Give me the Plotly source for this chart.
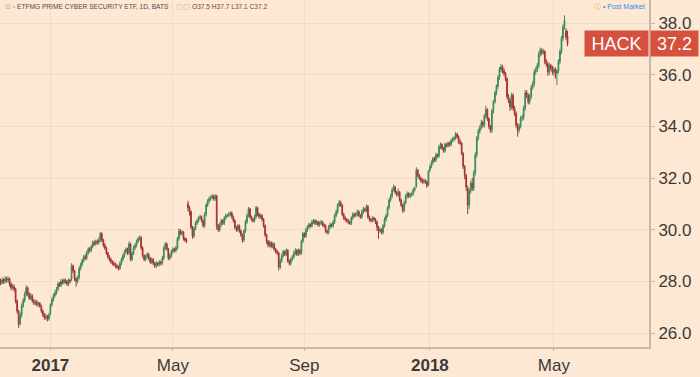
import pandas as pd
import plotly.graph_objects as go

# ---------------- data ----------------
opens = [
    28.0, 27.95, 28.05, 28.0, 28.1, 28.05, 28.1, 27.9, 27.75, 27.8,
    27.7, 27.25, 26.85, 26.35, 26.7, 27.05, 27.25, 27.5, 27.75, 27.5,
    27.35, 27.45, 27.25, 27.15, 27.2, 27.1, 27.15, 27.05, 26.85, 26.7,
    26.6, 26.65, 26.55, 26.75, 27.1, 27.3, 27.45, 27.55, 27.7, 27.9,
    27.85, 28.0, 27.95, 28.05, 28.0, 27.9, 28.05, 28.1, 28.6, 28.4,
    28.1, 28.0, 28.15, 28.5, 28.65, 28.8, 28.95, 28.9, 29.1, 29.25,
    29.2, 29.35, 29.5, 29.45, 29.55, 29.5, 29.6, 29.85, 29.6, 29.4,
    29.3, 29.1, 28.95, 28.85, 28.75, 28.7, 28.65, 28.6, 28.55, 28.5,
    28.7, 28.85, 29.0, 29.15, 29.25, 29.1, 29.45, 28.85, 29.1, 29.3,
    29.4, 29.55, 29.65, 29.7, 29.3, 29.0, 28.85, 28.95, 29.05, 28.9,
    28.75, 28.85, 28.7, 28.6, 28.7, 28.65, 28.75, 28.7, 28.9, 29.3,
    29.45, 29.25, 28.9, 29.0, 29.15, 29.25, 29.2, 29.3, 29.65, 29.95,
    29.85, 29.9, 29.65, 29.6, 31.0, 30.85, 30.7, 30.1, 29.75, 30.05,
    30.25, 30.35, 30.45, 30.5, 30.35, 30.15, 30.6, 30.95, 31.1, 31.2,
    31.25, 31.3, 31.2, 31.3, 30.15, 30.0, 30.2, 30.35, 30.25, 30.45,
    30.55, 30.55, 30.6, 30.65, 30.5, 30.35, 30.1, 30.0, 30.15, 29.95,
    29.8, 29.6, 29.95, 30.3, 30.55, 30.8, 30.5, 30.4, 30.35, 30.5,
    30.85, 30.6, 30.5, 30.55, 30.4, 30.15, 29.8, 29.55, 29.4, 29.5,
    29.35, 29.45, 29.25, 29.15, 29.1, 28.55, 28.8, 29.0, 29.15, 29.05,
    29.2, 28.8, 28.7, 28.85, 28.95, 29.1, 29.2, 29.05, 29.2, 29.1,
    29.55, 29.85, 29.75, 30.0, 30.1, 30.2, 30.15, 30.3, 30.35, 30.25,
    30.3, 30.2, 30.25, 30.3, 30.2, 30.15, 29.95, 29.9, 30.1, 30.2,
    30.15, 30.3, 30.55, 30.7, 30.95, 31.05, 30.95, 30.6, 30.45, 30.4,
    30.35, 30.3, 30.25, 30.45, 30.6, 30.55, 30.6, 30.7, 30.55, 30.5,
    30.7, 30.8, 30.75, 30.9, 30.5, 30.4, 30.35, 30.45, 30.4, 30.3,
    30.1, 29.95, 30.0, 29.9, 30.15, 30.4, 30.55, 30.85, 31.15, 31.3,
    31.55, 31.65, 31.45, 31.35, 31.45, 31.15, 30.95, 30.75, 31.05, 31.3,
    31.4, 31.3, 31.35, 31.4, 31.55, 31.7, 32.3, 32.1, 32.0, 31.9,
    31.85, 31.9, 31.85, 31.75, 32.3, 32.45, 32.6, 32.75, 32.7, 32.9,
    32.85, 33.2, 33.3, 33.15, 33.05, 33.3, 33.25, 33.35, 33.3, 33.45,
    33.5, 33.55, 33.7, 33.6, 33.4, 33.35, 32.95, 32.45, 32.1, 31.6,
    30.95, 31.5, 31.8, 31.6, 32.2, 32.9, 33.55, 33.8, 33.95, 34.15,
    34.05, 34.4, 34.65, 34.3, 34.0, 33.85, 34.6, 34.95, 35.3, 35.55,
    35.9, 36.2, 36.3, 36.15, 36.05, 35.85, 35.15, 35.0, 34.75, 35.2,
    34.7, 34.5, 34.05, 33.85, 34.0, 34.3, 34.35, 34.7, 35.3, 35.2,
    34.95, 35.15, 35.5, 35.65, 36.1, 36.2, 36.35, 36.8, 36.95, 36.85,
    36.9, 36.5, 36.4, 36.1, 36.35, 36.25, 36.1, 36.2, 36.05, 36.15,
    36.5, 36.9, 37.4, 37.85, 37.7, 37.5,
]

highs = [
    28.1, 28.15, 28.12, 28.2, 28.18, 28.2, 28.15, 27.98, 27.9, 27.88,
    27.75, 27.3, 26.9, 26.8, 27.15, 27.35, 27.6, 27.85, 27.8, 27.58,
    27.55, 27.5, 27.32, 27.3, 27.28, 27.22, 27.2, 27.1, 26.92, 26.78,
    26.75, 26.7, 26.78, 27.15, 27.38, 27.52, 27.65, 27.78, 27.98, 27.98,
    28.1, 28.08, 28.12, 28.1, 28.05, 28.12, 28.1, 28.7, 28.65, 28.45,
    28.15, 28.22, 28.58, 28.72, 28.88, 29.02, 29.05, 29.18, 29.32, 29.32,
    29.42, 29.58, 29.58, 29.62, 29.62, 29.7, 29.92, 29.9, 29.65, 29.48,
    29.35, 29.15, 29.02, 28.92, 28.82, 28.78, 28.72, 28.68, 28.62, 28.78,
    28.92, 29.08, 29.22, 29.32, 29.3, 29.55, 29.5, 29.15, 29.38, 29.48,
    29.62, 29.72, 29.78, 29.75, 29.35, 29.05, 29.02, 29.12, 29.1, 28.95,
    28.92, 28.9, 28.75, 28.78, 28.75, 28.82, 28.8, 28.98, 29.38, 29.52,
    29.5, 29.3, 29.08, 29.22, 29.32, 29.3, 29.38, 29.72, 30.05, 30.02,
    29.98, 29.95, 29.72, 29.68, 31.12, 30.92, 30.75, 30.15, 30.12, 30.32,
    30.42, 30.52, 30.58, 30.55, 30.4, 30.68, 31.02, 31.18, 31.28, 31.32,
    31.38, 31.35, 31.38, 31.35, 30.22, 30.28, 30.42, 30.4, 30.52, 30.62,
    30.62, 30.68, 30.72, 30.7, 30.55, 30.4, 30.15, 30.22, 30.2, 30.0,
    29.85, 30.02, 30.38, 30.62, 30.88, 30.85, 30.55, 30.45, 30.58, 30.92,
    30.9, 30.65, 30.62, 30.6, 30.45, 30.2, 29.85, 29.6, 29.58, 29.55,
    29.52, 29.5, 29.3, 29.22, 29.15, 28.88, 29.08, 29.22, 29.2, 29.28,
    29.25, 28.85, 28.92, 29.02, 29.18, 29.28, 29.25, 29.28, 29.25, 29.62,
    29.92, 29.9, 30.08, 30.18, 30.28, 30.25, 30.38, 30.42, 30.4, 30.38,
    30.35, 30.32, 30.38, 30.35, 30.25, 30.2, 30.0, 30.18, 30.28, 30.25,
    30.38, 30.62, 30.78, 31.02, 31.15, 31.12, 31.0, 30.65, 30.52, 30.45,
    30.42, 30.35, 30.52, 30.68, 30.65, 30.68, 30.78, 30.75, 30.6, 30.78,
    30.88, 30.85, 30.98, 30.95, 30.55, 30.45, 30.52, 30.5, 30.45, 30.35,
    30.15, 30.08, 30.05, 30.22, 30.48, 30.62, 30.92, 31.22, 31.38, 31.62,
    31.75, 31.7, 31.5, 31.6, 31.5, 31.2, 31.0, 31.12, 31.38, 31.48,
    31.45, 31.42, 31.48, 31.62, 31.68, 32.42, 32.35, 32.15, 32.05, 31.98,
    31.98, 31.95, 31.9, 32.32, 32.52, 32.68, 32.82, 32.82, 32.98, 32.95,
    33.28, 33.38, 33.35, 33.2, 33.38, 33.35, 33.42, 33.4, 33.52, 33.58,
    33.62, 33.78, 33.75, 33.65, 33.5, 33.4, 33.0, 32.5, 32.15, 31.7,
    31.6, 31.9, 32.0, 32.3, 33.0, 33.62, 33.9, 34.05, 34.25, 34.22,
    34.48, 34.8, 34.7, 34.35, 34.05, 34.68, 35.02, 35.38, 35.62, 35.98,
    36.3, 36.42, 36.38, 36.25, 36.1, 35.9, 35.25, 35.1, 35.3, 35.28,
    34.8, 34.58, 34.12, 34.1, 34.4, 34.45, 34.8, 35.4, 35.4, 35.28,
    35.25, 35.6, 35.75, 36.2, 36.3, 36.45, 36.9, 37.05, 37.02, 37.0,
    36.95, 36.6, 36.5, 36.45, 36.42, 36.35, 36.3, 36.28, 36.22, 36.6,
    37.0, 37.5, 37.95, 38.3, 37.8, 37.7,
]

lows = [
    27.85, 27.88, 27.9, 27.92, 27.95, 27.95, 27.8, 27.65, 27.68, 27.6,
    27.15, 26.75, 26.2, 26.3, 26.6, 26.98, 27.18, 27.42, 27.42, 27.28,
    27.28, 27.18, 27.08, 27.08, 27.02, 27.02, 26.98, 26.78, 26.62, 26.52,
    26.5, 26.45, 26.48, 26.68, 27.02, 27.22, 27.38, 27.48, 27.62, 27.78,
    27.78, 27.88, 27.88, 27.92, 27.82, 27.82, 27.92, 28.02, 28.32, 28.02,
    27.8, 27.92, 28.08, 28.42, 28.58, 28.72, 28.82, 28.82, 29.02, 29.12,
    29.12, 29.28, 29.38, 29.38, 29.42, 29.42, 29.52, 29.52, 29.32, 29.22,
    29.02, 28.88, 28.78, 28.68, 28.62, 28.58, 28.52, 28.48, 28.42, 28.45,
    28.62, 28.78, 28.92, 29.08, 29.02, 29.02, 28.78, 28.78, 29.02, 29.22,
    29.32, 29.48, 29.58, 29.22, 28.92, 28.78, 28.78, 28.88, 28.82, 28.68,
    28.68, 28.62, 28.52, 28.52, 28.58, 28.58, 28.62, 28.62, 28.82, 29.22,
    29.18, 28.82, 28.82, 28.92, 29.08, 29.12, 29.12, 29.22, 29.58, 29.78,
    29.78, 29.58, 29.52, 29.48, 30.7, 30.55, 30.02, 29.65, 29.68, 29.98,
    30.18, 30.28, 30.38, 30.28, 30.08, 30.08, 30.52, 30.88, 31.02, 31.12,
    31.18, 31.12, 31.12, 30.0, 29.92, 29.92, 30.12, 30.18, 30.18, 30.38,
    30.48, 30.48, 30.52, 30.42, 30.28, 30.02, 29.92, 29.92, 29.88, 29.72,
    29.5, 29.52, 29.88, 30.22, 30.48, 30.42, 30.32, 30.28, 30.28, 30.42,
    30.52, 30.42, 30.42, 30.32, 30.08, 29.72, 29.45, 29.32, 29.32, 29.28,
    29.28, 29.18, 29.08, 29.02, 28.42, 28.48, 28.72, 28.92, 28.98, 28.98,
    28.72, 28.62, 28.62, 28.78, 28.88, 29.02, 28.98, 28.98, 29.02, 29.02,
    29.48, 29.68, 29.68, 29.92, 30.02, 30.08, 30.08, 30.22, 30.18, 30.18,
    30.12, 30.12, 30.18, 30.12, 30.08, 29.88, 29.82, 29.82, 30.02, 30.08,
    30.08, 30.22, 30.48, 30.62, 30.88, 30.88, 30.52, 30.38, 30.32, 30.28,
    30.22, 30.18, 30.18, 30.38, 30.48, 30.48, 30.52, 30.48, 30.42, 30.42,
    30.62, 30.68, 30.68, 30.42, 30.32, 30.28, 30.28, 30.32, 30.22, 29.95,
    29.65, 29.88, 29.82, 29.82, 30.08, 30.32, 30.48, 30.78, 31.08, 31.22,
    31.48, 31.38, 31.28, 31.28, 31.08, 30.88, 30.65, 30.68, 30.98, 31.22,
    31.22, 31.22, 31.28, 31.32, 31.48, 31.62, 32.02, 31.92, 31.82, 31.78,
    31.78, 31.78, 31.62, 31.68, 32.22, 32.38, 32.52, 32.62, 32.62, 32.78,
    32.78, 33.12, 33.08, 32.98, 32.98, 33.18, 33.18, 33.22, 33.22, 33.38,
    33.42, 33.48, 33.52, 33.32, 33.28, 32.88, 32.35, 31.95, 31.5, 30.6,
    30.8, 31.4, 31.5, 31.5, 32.1, 32.8, 33.45, 33.72, 33.88, 33.95,
    33.95, 34.3, 34.2, 33.9, 33.75, 33.75, 34.5, 34.88, 35.2, 35.45,
    35.8, 36.1, 36.05, 35.95, 35.75, 35.05, 34.9, 34.6, 34.65, 34.6,
    34.4, 33.95, 33.6, 33.75, 33.92, 34.2, 34.25, 34.6, 35.1, 34.85,
    34.85, 35.05, 35.42, 35.55, 36.0, 36.1, 36.25, 36.7, 36.75, 36.78,
    36.4, 36.3, 35.95, 36.0, 36.15, 36.0, 35.95, 35.85, 35.6, 36.05,
    36.4, 36.8, 37.3, 37.75, 37.35, 37.1,
]

closes = [
    27.95, 28.05, 28.0, 28.1, 28.05, 28.1, 27.9, 27.75, 27.8, 27.7,
    27.25, 26.85, 26.35, 26.7, 27.05, 27.25, 27.5, 27.75, 27.5, 27.35,
    27.45, 27.25, 27.15, 27.2, 27.1, 27.15, 27.05, 26.85, 26.7, 26.6,
    26.65, 26.55, 26.7, 27.1, 27.3, 27.45, 27.55, 27.7, 27.9, 27.85,
    28.0, 27.95, 28.05, 28.0, 27.9, 28.05, 28.0, 28.6, 28.4, 28.1,
    28.0, 28.15, 28.5, 28.65, 28.8, 28.95, 28.9, 29.1, 29.25, 29.2,
    29.35, 29.5, 29.45, 29.55, 29.5, 29.6, 29.85, 29.6, 29.4, 29.3,
    29.1, 28.95, 28.85, 28.75, 28.7, 28.65, 28.6, 28.55, 28.5, 28.7,
    28.85, 29.0, 29.15, 29.25, 29.1, 29.45, 28.85, 29.1, 29.3, 29.4,
    29.55, 29.65, 29.7, 29.3, 29.0, 28.85, 28.95, 29.05, 28.9, 28.75,
    28.85, 28.7, 28.6, 28.7, 28.65, 28.75, 28.7, 28.9, 29.3, 29.45,
    29.25, 28.9, 29.0, 29.15, 29.25, 29.2, 29.3, 29.65, 29.95, 29.85,
    29.9, 29.65, 29.6, 29.55, 30.85, 30.7, 30.1, 29.75, 30.05, 30.25,
    30.35, 30.45, 30.5, 30.35, 30.15, 30.6, 30.95, 31.1, 31.2, 31.25,
    31.3, 31.2, 31.3, 30.15, 30.0, 30.2, 30.35, 30.25, 30.45, 30.55,
    30.55, 30.6, 30.65, 30.5, 30.35, 30.1, 30.0, 30.15, 29.95, 29.8,
    29.6, 29.95, 30.3, 30.55, 30.8, 30.5, 30.4, 30.35, 30.5, 30.85,
    30.6, 30.5, 30.55, 30.4, 30.15, 29.8, 29.55, 29.4, 29.5, 29.35,
    29.45, 29.25, 29.15, 29.1, 28.55, 28.8, 29.0, 29.15, 29.05, 29.2,
    28.8, 28.7, 28.85, 28.95, 29.1, 29.2, 29.05, 29.2, 29.1, 29.55,
    29.85, 29.75, 30.0, 30.1, 30.2, 30.15, 30.3, 30.35, 30.25, 30.3,
    30.2, 30.25, 30.3, 30.2, 30.15, 29.95, 29.9, 30.1, 30.2, 30.15,
    30.3, 30.55, 30.7, 30.95, 31.05, 30.95, 30.6, 30.45, 30.4, 30.35,
    30.3, 30.25, 30.45, 30.6, 30.55, 30.6, 30.7, 30.55, 30.5, 30.7,
    30.8, 30.75, 30.9, 30.5, 30.4, 30.35, 30.45, 30.4, 30.3, 30.1,
    29.95, 30.0, 29.9, 30.15, 30.4, 30.55, 30.85, 31.15, 31.3, 31.55,
    31.65, 31.45, 31.35, 31.45, 31.15, 30.95, 30.75, 31.05, 31.3, 31.4,
    31.3, 31.35, 31.4, 31.55, 31.6, 32.3, 32.1, 32.0, 31.9, 31.85,
    31.9, 31.85, 31.7, 32.25, 32.45, 32.6, 32.75, 32.7, 32.9, 32.85,
    33.2, 33.3, 33.15, 33.05, 33.3, 33.25, 33.35, 33.3, 33.45, 33.5,
    33.55, 33.7, 33.6, 33.4, 33.35, 32.95, 32.45, 32.1, 31.65, 30.95,
    31.5, 31.8, 31.6, 32.2, 32.9, 33.55, 33.8, 33.95, 34.15, 34.05,
    34.4, 34.65, 34.3, 34.0, 33.85, 34.6, 34.95, 35.3, 35.55, 35.9,
    36.2, 36.3, 36.15, 36.05, 35.85, 35.15, 35.0, 34.75, 35.2, 34.7,
    34.5, 34.05, 33.85, 34.0, 34.3, 34.35, 34.7, 35.3, 35.2, 34.95,
    35.15, 35.5, 35.65, 36.1, 36.2, 36.35, 36.8, 36.95, 36.85, 36.9,
    36.5, 36.4, 36.1, 36.35, 36.25, 36.1, 36.2, 36.05, 36.15, 36.5,
    36.9, 37.4, 37.85, 38.1, 37.45, 37.2,
]

holidays = ["2016-11-24", "2016-12-26", "2017-01-02", "2017-01-16", "2017-02-20",
            "2017-04-14", "2017-05-29", "2017-07-04", "2017-09-04", "2017-11-23",
            "2017-12-25", "2018-01-01", "2018-01-15", "2018-02-19", "2018-03-30"]
dates = [d.strftime("%Y-%m-%d") for d in pd.bdate_range("2016-11-14", "2018-05-14")
         if d.strftime("%Y-%m-%d") not in holidays]

tick_dates = ["2017-01-03", "2017-05-01", "2017-09-01", "2018-01-02", "2018-05-01"]
tick_labels = ["<b>2017</b>", "May", "Sep", "<b>2018</b>", "May"]
price_ticks = [26, 28, 30, 32, 34, 36, 38]

symbol = "HACK"
title_text = "ETFMG PRIME CYBER SECURITY ETF, 1D, BATS"

n = min(len(dates), len(opens), len(highs), len(lows), len(closes))
dates, opens, highs, lows, closes = dates[:n], opens[:n], highs[:n], lows[:n], closes[:n]

# ---------------- styling ----------------
BG = "#FDE8D3"
GRID = "#F3DCC6"
AXIS = "#C7B9A9"
TXT = "#3A3A3A"
UP = "#3A8A5E"
DOWN = "#A3332E"
LABEL_RED = "#D6503E"
FONT = "Liberation Sans, Arial, sans-serif"

fig = go.Figure(go.Candlestick(
    x=dates, open=opens, high=highs, low=lows, close=closes,
    increasing=dict(line=dict(color=UP, width=1), fillcolor=UP),
    decreasing=dict(line=dict(color=DOWN, width=1), fillcolor=DOWN),
    whiskerwidth=0, hoverinfo="skip", showlegend=False,
))

fig.update_layout(
    width=700, height=377,
    margin=dict(l=0, r=51, t=0, b=30),
    paper_bgcolor=BG, plot_bgcolor=BG,
    font=dict(family=FONT, color=TXT),
    showlegend=False,
    xaxis=dict(
        type="category", range=[-0.33, 428.9],
        tickmode="array", tickvals=tick_dates, ticktext=tick_labels,
        tickfont=dict(size=17, color=TXT),
        showgrid=True, gridcolor=GRID, gridwidth=1,
        ticks="outside", ticklen=2, tickcolor=AXIS,
        showline=True, linecolor=AXIS, linewidth=2,
        rangeslider=dict(visible=False), fixedrange=True, zeroline=False,
    ),
    yaxis=dict(
        side="right", range=[25.46, 38.89],
        tickmode="array", tickvals=price_ticks,
        ticktext=[f"{v:.1f}" for v in price_ticks],
        tickfont=dict(size=17, color=TXT),
        showgrid=True, gridcolor=GRID, gridwidth=1,
        ticks="outside", ticklen=4, tickcolor=AXIS,
        showline=True, linecolor=AXIS, linewidth=2,
        fixedrange=True, zeroline=False,
    ),
)

last = closes[-1]
val_col = "#8E3A30"
legend_html = (
    f"<span style='color:#B8B0A8'>⊟ ▪</span> "
    f"<span style='color:#4A4A4A'>{title_text}</span>"
    f"<span style='color:#B8B0A8'> ·  ▢▢ </span>"
    f"O<span style='color:{val_col}'>{opens[-1]:.1f}</span> "
    f"H<span style='color:{val_col}'>{highs[-1]:.1f}</span> "
    f"L<span style='color:{val_col}'>{lows[-1]:.1f}</span> "
    f"C<span style='color:{val_col}'>{closes[-1]:.1f}</span>"
)
fig.add_annotation(xref="paper", yref="paper", x=0.004, y=1.0, xanchor="left", yanchor="top",
                   yshift=-1, text=legend_html, showarrow=False,
                   font=dict(size=6.6, color="#4A4A4A", family=FONT))

fig.add_annotation(xref="paper", yref="paper", x=0.997, y=1.0, xanchor="right", yanchor="top",
                   yshift=-1, showarrow=False,
                   text="<span style='color:#F0A060'>ⓘ</span> <span style='color:#2F8FE0'>• Post Market</span>",
                   font=dict(size=7, family=FONT))

# last-price label boxes (anchored to the last close)
fig.add_annotation(xref="paper", yref="y", x=584 / 649, y=last, xanchor="left", yanchor="middle",
                   text=symbol, showarrow=False, bgcolor=LABEL_RED, width=63, height=25,
                   borderpad=0, align="center", font=dict(size=18, color="white", family=FONT))
fig.add_annotation(xref="paper", yref="y", x=650 / 649, y=last, xanchor="left", yanchor="middle",
                   text=f"{last:.1f}", showarrow=False, bgcolor=LABEL_RED, width=47, height=25,
                   borderpad=0, align="center", font=dict(size=18, color="white", family=FONT))

fig.write_html(
    "out.html",
    config={"displayModeBar": False, "staticPlot": True},
    post_script="document.body.style.margin='0px';document.body.style.padding='0px';"
                "document.body.style.overflow='hidden';",
)
